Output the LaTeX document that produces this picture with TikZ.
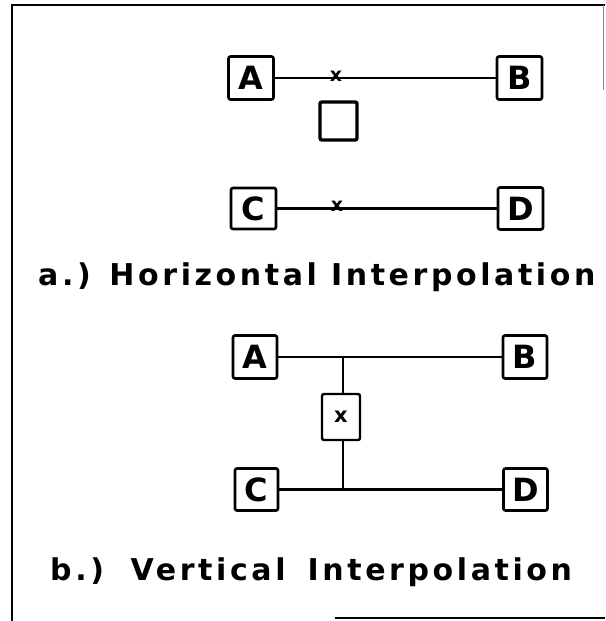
\documentclass[tikz,border=0pt]{standalone}
\usepackage{fontspec}
\newfontfamily\plotfont[LetterSpace=12]{DejaVu Sans Bold}
\newfontfamily\boxfont{DejaVu Sans Bold}
\begin{document}
\begin{tikzpicture}[x=1pt,y=-1pt,
  gridpt/.style={draw, line width=2.6pt, rounded corners=2pt, inner sep=0pt,
    minimum width=45pt, minimum height=43pt, font=\boxfont\fontsize{32}{32}\selectfont},
  target/.style={draw, line width=3.4pt, rounded corners=2pt, inner sep=0pt,
    minimum width=37pt, minimum height=38pt},
  xbox/.style={draw, line width=2.4pt, rounded corners=2pt, inner sep=0pt,
    minimum width=38pt, minimum height=46pt, font=\boxfont\fontsize{21}{21}\selectfont},
  xmark/.style={inner sep=0pt, font=\boxfont\fontsize{19}{19}\selectfont},
  link/.style={line width=2.2pt},
  caption/.style={inner sep=0pt, anchor=west, font=\plotfont\fontsize{30}{30}\selectfont},
  border/.style={line width=2.6pt}]
\useasboundingbox (0,0) rectangle (605,621);
% frame
\draw[border] (12,621) -- (12,5) -- (605,5);
\draw[border] (335,618) -- (605,618);
\draw[line width=1pt, black!45] (603,5) -- (603,90);

% a.) horizontal interpolation
\node[gridpt] (A1) at (251,78) {A};
\node[gridpt] (B1) at (519.5,78) {B};
\node[target] (E1) at (338.5,121) {};
\node[gridpt, minimum height=41pt] (C1) at (253.5,208.5) {C};
\node[gridpt, minimum height=42pt] (D1) at (520.5,208.5) {D};
\draw[link] (A1.east) -- (B1.west);
\draw[link] (C1.east) -- (D1.west);
\node[xmark] (m1) at (336,76) {x};
\node[xmark] (m2) at (337,206) {x};
\node[caption] (ta) at (38,277) {a.) Horizontal Interpolation};

% b.) vertical interpolation
\node[gridpt, minimum width=44pt] (A2) at (255,357) {A};
\node[gridpt, minimum width=44pt] (B2) at (525,357) {B};
\node[xbox] (X) at (341,417) {x};
\node[gridpt, minimum width=43pt, minimum height=42pt] (C2) at (256.5,489.5) {C};
\node[gridpt, minimum width=44pt, minimum height=42pt] (D2) at (525.5,489.5) {D};
\draw[link] (A2.east) -- (B2.west);
\draw[link] (C2.east) -- (D2.west);
\coordinate (j1) at (343,357);
\coordinate (j2) at (343,489.5);
\draw[link] (j1) -- (X.north -| j1);
\draw[link] (X.south -| j2) -- (j2);
\node[caption] (tb) at (50,572) {b.)\hspace{8pt} Vertical\hspace{8pt} Interpolation};
\end{tikzpicture}
\end{document}
